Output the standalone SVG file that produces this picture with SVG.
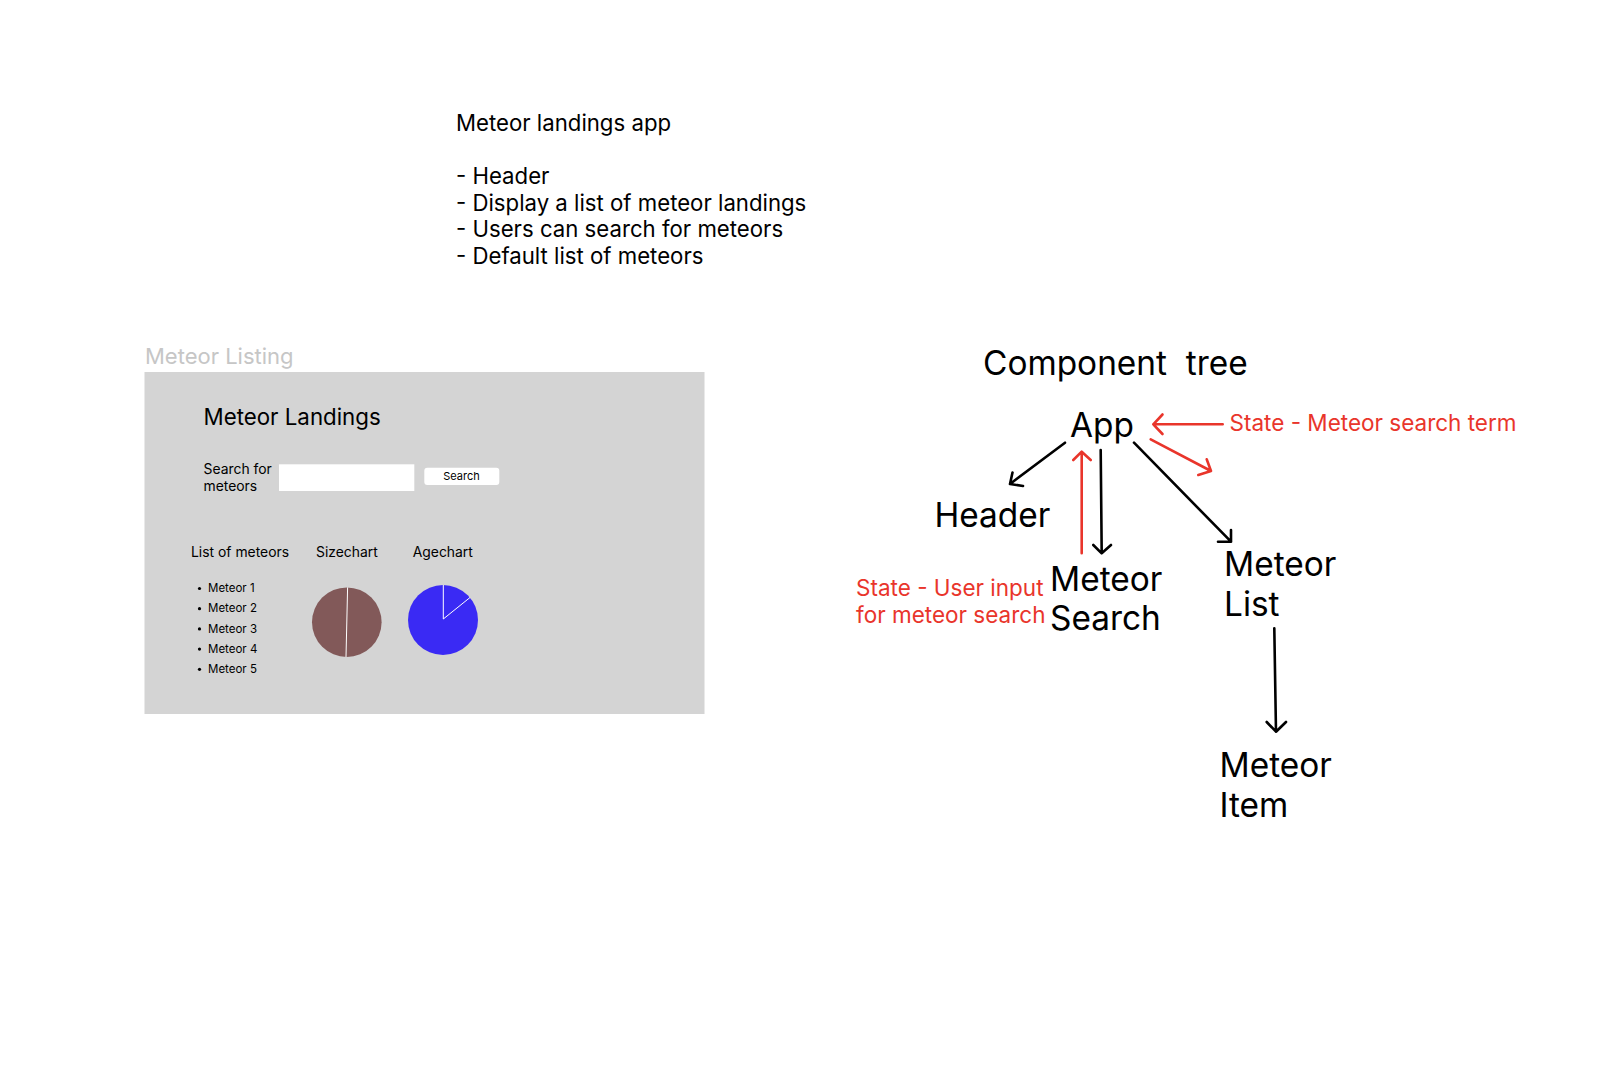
<svg xmlns="http://www.w3.org/2000/svg" width="1604" height="1072" viewBox="0 0 1604 1072">
<style>
text{font-family:Inter,"Noto Sans","Liberation Sans",sans-serif;fill:#000}
.red{fill:#e9352b}
.big{font-size:33.4px}
.note{font-size:22.2px}
.rnote{font-size:22.5px}
.ui{font-size:13.9px}
.li{font-size:11.5px}
.blk{stroke:#000;stroke-width:2.6;fill:none;stroke-linecap:round;stroke-linejoin:round}
.rd{stroke:#e9352b;stroke-width:2.6;fill:none;stroke-linecap:round;stroke-linejoin:round}
</style>
<rect width="1604" height="1072" fill="#fff"/>
<g id="notes">
<text x="456" y="131" class="note">Meteor landings app</text>
<text x="456" y="184" class="note">- Header</text>
<text x="456" y="210.5" class="note">- Display a list of meteor landings</text>
<text x="456" y="237" class="note">- Users can search for meteors</text>
<text x="456" y="263.5" class="note">- Default list of meteors</text>
</g>
<g id="meteor-listing">
<text x="145" y="364" style="font-size:22px;fill:#c6c6c6">Meteor Listing</text>
<rect x="144.5" y="372" width="560" height="342" fill="#d4d4d4"/>
<text x="203.5" y="425" style="font-size:22.3px">Meteor Landings</text>
<text x="203.5" y="474.3" class="ui">Search for</text>
<text x="203.5" y="491" class="ui">meteors</text>
<rect x="279" y="464.3" width="135.3" height="26.7" fill="#fff"/>
<rect x="424.3" y="467.7" width="75" height="17.3" rx="3" fill="#fff"/>
<text x="461.5" y="480" style="font-size:11px" text-anchor="middle">Search</text>
<text x="191" y="556.7" class="ui">List of meteors</text>
<text x="316" y="556.7" class="ui">Sizechart</text>
<text x="412.7" y="556.7" class="ui">Agechart</text>
<g>
<circle cx="199.5" cy="588.5" r="1.6"/>
<text x="208" y="592.2" class="li">Meteor 1</text>
<circle cx="199.5" cy="608.7" r="1.6"/>
<text x="208" y="612.4" class="li">Meteor 2</text>
<circle cx="199.5" cy="628.9" r="1.6"/>
<text x="208" y="632.6" class="li">Meteor 3</text>
<circle cx="199.5" cy="649.1" r="1.6"/>
<text x="208" y="652.8" class="li">Meteor 4</text>
<circle cx="199.5" cy="669.3" r="1.6"/>
<text x="208" y="673" class="li">Meteor 5</text>
</g>
<circle cx="346.8" cy="622.2" r="34.8" fill="#825959"/>
<line x1="347.6" y1="587.4" x2="346" y2="657" stroke="#fff" stroke-width="1"/>
<circle cx="443" cy="620" r="35" fill="#3a2af4"/>
<polyline points="443.3,585 443.3,619 470,597.5" fill="none" stroke="#fff" stroke-width="1"/>
</g>
<text x="983" y="375" class="big" xml:space="preserve" style="white-space:pre">Component  tree</text>
<g id="app"><text x="1070" y="437.3" class="big">App</text></g>
<g id="header"><text x="934.5" y="527" class="big">Header</text></g>
<g id="meteor-search"><text x="1050" y="590.5" class="big">Meteor</text><text x="1050" y="630" class="big">Search</text></g>
<g id="meteor-list"><text x="1224" y="575.5" class="big">Meteor</text><text x="1224" y="615.5" class="big">List</text></g>
<g id="meteor-item"><text x="1219.5" y="777" class="big">Meteor</text><text x="1219.5" y="817" class="big">Item</text></g>
<g id="state-app"><text x="1229.5" y="431" class="rnote red">State - Meteor search term</text></g>
<g id="state-search"><text x="856" y="596" class="rnote red">State - User input</text><text x="856" y="622.8" class="rnote red">for meteor search</text></g>
<g id="connectors">
<path class="blk" d="M1065,442.7 L1010,484 M1012.5,472.5 L1010,484 L1023,486"/>
<path class="blk" d="M1100.7,450 L1101.7,553.3 M1093.3,545 L1101.7,553.3 L1111,545"/>
<path class="blk" d="M1134,442.7 L1231,541.7 M1218,541.7 L1231,541.7 L1231,530"/>
<path class="blk" d="M1274.3,628.3 L1276,731.7 M1266.7,722 L1276,731.7 L1286,722"/>
<path class="rd" d="M1081.7,553.3 L1081.7,451.7 M1073.3,460 L1081.7,451.7 L1090.7,460"/>
<path class="rd" d="M1222.7,424.3 L1153.3,424.3 M1162.5,414.5 L1153.3,424.3 L1162.5,434"/>
<path class="rd" d="M1150.7,439.3 L1211,471 M1206.7,459.3 L1211,471 L1198.3,475"/>
</g>
</svg>
